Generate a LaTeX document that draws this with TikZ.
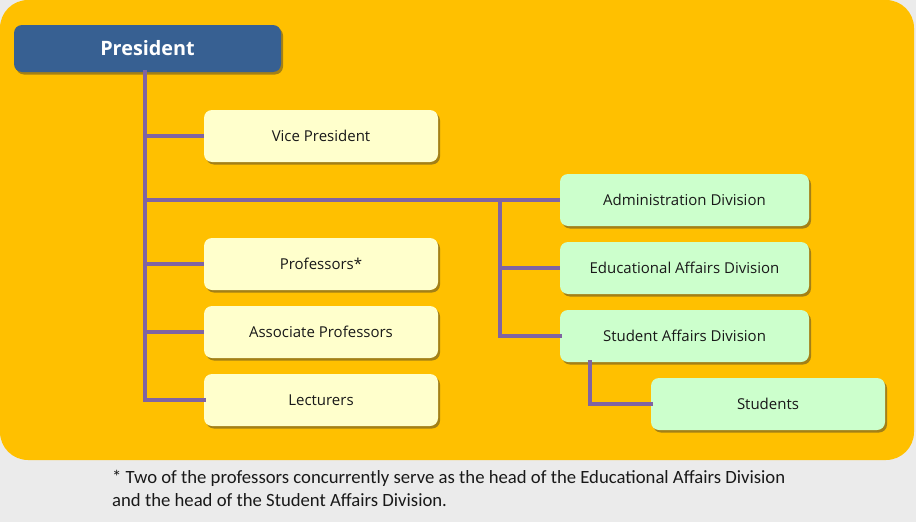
\documentclass[tikz,border=0pt]{standalone}
\usepackage{fontspec}
\setmainfont{Open Sans}
\newfontfamily\notefont{Carlito}
\usetikzlibrary{shadows}
\definecolor{bggray}{HTML}{EBEBEB}
\definecolor{orangebg}{HTML}{FFC000}
\definecolor{presblue}{HTML}{376092}
\definecolor{linepurple}{HTML}{8064A2}
\definecolor{paleyellow}{HTML}{FFFFCC}
\definecolor{palegreen}{HTML}{CCFFCC}
\tikzset{
  boxbase/.style={rounded corners=8pt, draw=none, align=center, inner sep=0pt,
    font=\fontsize{15pt}{18pt}\selectfont, text=black!90,
    drop shadow={shadow xshift=2pt, shadow yshift=-2.5pt, opacity=0.45, fill=black!80}},
  yellowbox/.style={boxbase, fill=paleyellow, minimum width=234pt, minimum height=52pt},
  greenbox/.style={boxbase, fill=palegreen, minimum width=249pt, minimum height=52pt},
  presbox/.style={boxbase, fill=presblue, text=white, minimum width=267pt, minimum height=47pt,
    font=\fontsize{19.8pt}{22pt}\selectfont\bfseries},
  conn/.style={draw=linepurple, line width=3.5pt},
}
\begin{document}
\begin{tikzpicture}[x=1pt,y=-1pt]
\useasboundingbox (0,0) rectangle (916,522);
\fill[bggray] (0,0) rectangle (916,522);
\fill[orangebg, rounded corners=28pt] (0,0) rectangle (914,460);

\node[presbox] (pres) at (147.5,48.5) {President};
\node[yellowbox] (vp) at (321,136) {Vice President};
\node[yellowbox] (prof) at (321,264) {Professors*};
\node[yellowbox] (assoc) at (321,332) {Associate Professors};
\node[yellowbox] (lect) at (321,400) {Lecturers};
\node[greenbox] (adm) at (684.5,200) {Administration Division};
\node[greenbox] (edu) at (684.5,268) {Educational Affairs Division};
\node[greenbox] (stu) at (684.5,336) {Student Affairs Division};
\node[greenbox, minimum width=234pt] (stus) at (768,404) {Students};

\coordinate (trunk) at (145,72);
\coordinate (trunkend) at (145,400);
\coordinate (jv) at (145,136);
\coordinate (jd) at (145,200);
\coordinate (jp) at (145,264);
\coordinate (ja) at (145,332);
\coordinate (branch) at (500,200);
\coordinate (be) at (500,268);
\coordinate (bs) at (500,336);
\coordinate (stuleg) at (590,362);

\draw[conn, line cap=rect] (trunk) -- (trunkend) -- (lect.west);
\draw[conn] (jv) -- (vp.west);
\draw[conn] (jd) -- (adm.west);
\draw[conn] (jp) -- (prof.west);
\draw[conn] (ja) -- (assoc.west);
\draw[conn, line cap=rect] (branch) -- (bs) -- (stu.west);
\draw[conn] (be) -- (edu.west);
\draw[conn, line cap=rect] (stuleg) |- (stus.west);

\node[anchor=base west, inner sep=0pt, align=left, font=\notefont\fontsize{18.7pt}{23pt}\selectfont, text=black!90] (note) at (112,506)
  {* Two of the professors concurrently serve as the head of the Educational Affairs Division\\and the head of the Student Affairs Division.};
\end{tikzpicture}
\end{document}
